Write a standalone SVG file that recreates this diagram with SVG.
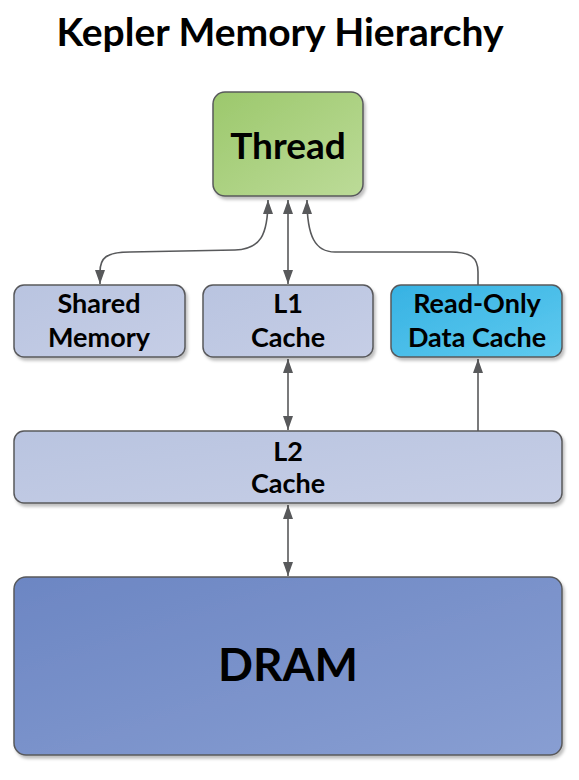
<svg xmlns="http://www.w3.org/2000/svg" width="579" height="780" viewBox="0 0 579 780">
<defs>
<linearGradient id="gGreen" x1="0" y1="0" x2="1" y2="1"><stop offset="0" stop-color="#9cc86c"/><stop offset="1" stop-color="#bcdb98"/></linearGradient>
<linearGradient id="gLav" x1="0" y1="0" x2="1" y2="1"><stop offset="0" stop-color="#b9c4e0"/><stop offset="1" stop-color="#c6cee6"/></linearGradient>
<linearGradient id="gCyan" x1="0" y1="0" x2="1" y2="1"><stop offset="0" stop-color="#36b2e3"/><stop offset="1" stop-color="#5fcaef"/></linearGradient>
<linearGradient id="gDram" x1="0" y1="0" x2="1" y2="1"><stop offset="0" stop-color="#6c86c3"/><stop offset="1" stop-color="#889ed2"/></linearGradient>
<filter id="sh" x="-5%" y="-5%" width="115%" height="120%"><feDropShadow dx="2" dy="3" stdDeviation="1.5" flood-color="#000" flood-opacity="0.25"/></filter>
<marker id="ah" viewBox="0 0 14 10" refX="14" refY="5" markerWidth="14" markerHeight="10" markerUnits="userSpaceOnUse" orient="auto-start-reverse"><path d="M0,0 L14,5 L0,10 Z" fill="#58595b"/></marker>
</defs>
<style>
.box{stroke:#58595b;stroke-width:1.5;filter:url(#sh)}
.t{font-family:Lato,"Open Sans",sans-serif;font-weight:bold;fill:#000;text-anchor:middle}
.c{fill:none;stroke:#58595b;stroke-width:1.6}
</style>
<text class="t" x="280" y="46" font-size="39">Kepler Memory Hierarchy</text>
<g id="connectors">
<path class="c" d="M100 284 L100 272 C100 258 106 252 130 252 L235 250 C260 249 268 236 268 200" marker-start="url(#ah)" marker-end="url(#ah)"/>
<path class="c" d="M288 200 L288 284" marker-start="url(#ah)" marker-end="url(#ah)"/>
<path class="c" d="M478 285 L478 272 C478 257 470 252 450 252 L335 252 C315 252 307 236 307 200" marker-end="url(#ah)"/>
<path class="c" d="M288 359 L288 430" marker-start="url(#ah)" marker-end="url(#ah)"/>
<path class="c" d="M478 431 L478 359" marker-end="url(#ah)"/>
<path class="c" d="M288 505 L288 576" marker-start="url(#ah)" marker-end="url(#ah)"/>
</g>
<g id="thread">
<rect class="box" x="213" y="92" width="150" height="104" rx="12" fill="url(#gGreen)"/>
<text class="t" x="288" y="159" font-size="37">Thread</text>
</g>
<g id="shared">
<rect class="box" x="14" y="285" width="171" height="72" rx="10" fill="url(#gLav)"/>
<text class="t" x="99" y="313" font-size="27">Shared</text>
<text class="t" x="99" y="347" font-size="27">Memory</text>
</g>
<g id="l1">
<rect class="box" x="203" y="285" width="170" height="72" rx="10" fill="url(#gLav)"/>
<text class="t" x="288" y="313" font-size="27">L1</text>
<text class="t" x="288" y="347" font-size="27">Cache</text>
</g>
<g id="readonly">
<rect class="box" x="391" y="285" width="171" height="72" rx="10" fill="url(#gCyan)"/>
<text class="t" x="477" y="313" font-size="27">Read-Only</text>
<text class="t" x="477" y="347" font-size="27">Data Cache</text>
</g>
<g id="l2">
<rect class="box" x="14" y="431" width="548" height="72" rx="10" fill="url(#gLav)"/>
<text class="t" x="288" y="461" font-size="27">L2</text>
<text class="t" x="288" y="493" font-size="27">Cache</text>
</g>
<g id="dram">
<rect class="box" x="14" y="577" width="548" height="178" rx="12" fill="url(#gDram)"/>
<text class="t" x="288" y="681" font-size="46">DRAM</text>
</g>
</svg>
